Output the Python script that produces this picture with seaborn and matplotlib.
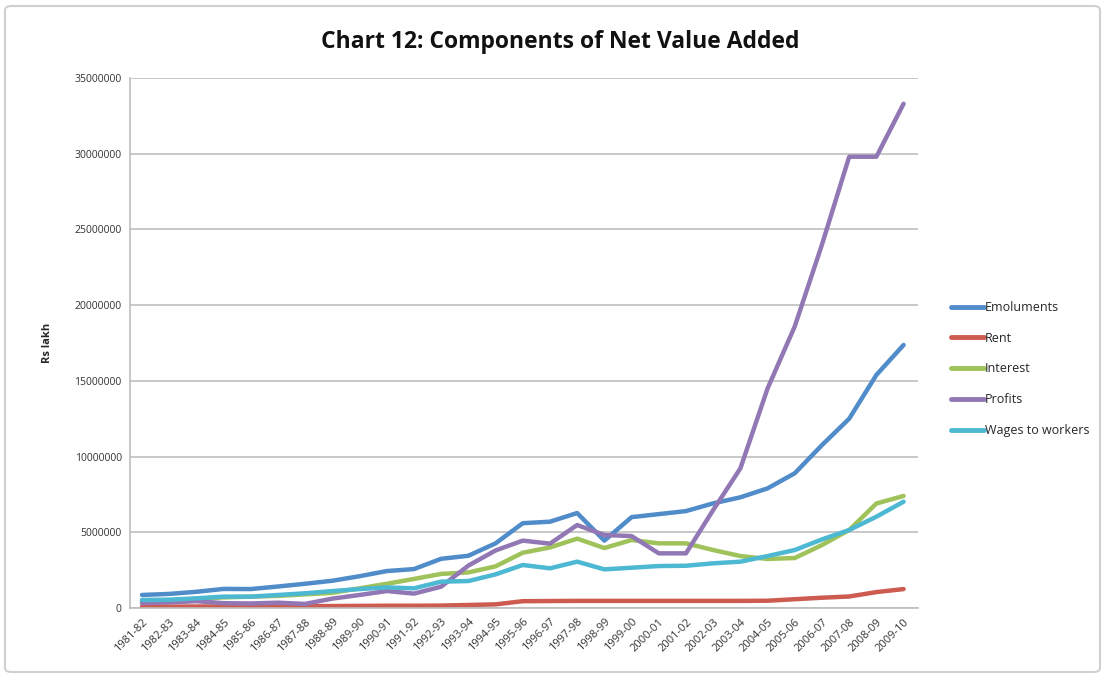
import numpy as np
import pandas as pd
import matplotlib
matplotlib.use("Agg")
import matplotlib.pyplot as plt
import seaborn as sns
from matplotlib.patches import FancyBboxPatch

years = ["1981-82", "1982-83", "1983-84", "1984-85", "1985-86", "1986-87", "1987-88",
         "1988-89", "1989-90", "1990-91", "1991-92", "1992-93", "1993-94", "1994-95",
         "1995-96", "1996-97", "1997-98", "1998-99", "1999-00", "2000-01", "2001-02",
         "2002-03", "2003-04", "2004-05", "2005-06", "2006-07", "2007-08", "2008-09",
         "2009-10"]

emoluments = [0.86, 0.93, 1.07, 1.26, 1.25, 1.42, 1.6, 1.8, 2.1, 2.44, 2.57, 3.25, 3.45,
              4.27, 5.6, 5.7, 6.27, 4.45, 6.0, 6.2, 6.4, 6.91, 7.31, 7.9, 8.9, 10.76,
              12.5, 15.39, 17.37]
rent = [0.08, 0.09, 0.1, 0.1, 0.11, 0.12, 0.12, 0.13, 0.14, 0.15, 0.15, 0.16, 0.2, 0.24,
        0.45, 0.46, 0.47, 0.47, 0.47, 0.47, 0.47, 0.47, 0.47, 0.48, 0.58, 0.68, 0.76,
        1.05, 1.25]
interest = [0.45, 0.5, 0.6, 0.7, 0.75, 0.8, 0.9, 1.0, 1.3, 1.6, 1.92, 2.25, 2.35, 2.75,
            3.65, 4.0, 4.58, 3.96, 4.49, 4.27, 4.27, 3.83, 3.43, 3.24, 3.3, 4.16, 5.15,
            6.9, 7.4]
profits = [0.32, 0.37, 0.45, 0.32, 0.3, 0.35, 0.27, 0.62, 0.86, 1.12, 0.95, 1.41, 2.8,
           3.8, 4.45, 4.25, 5.48, 4.82, 4.75, 3.61, 3.61, 6.47, 9.22, 14.5, 18.6, 24.0,
           29.8, 29.8, 33.3]
wages = [0.53, 0.55, 0.64, 0.75, 0.75, 0.86, 0.97, 1.12, 1.25, 1.36, 1.3, 1.74, 1.78,
         2.22, 2.84, 2.62, 3.06, 2.55, 2.66, 2.77, 2.79, 2.95, 3.06, 3.43, 3.83, 4.53,
         5.15, 6.03, 7.02]

series_names = ["Emoluments", "Rent", "Interest", "Profits", "Wages to workers"]
series_values = [emoluments, rent, interest, profits, wages]
colors = ["#4f8cc9", "#cd5b50", "#9fc25a", "#9277b5", "#4db8d2"]

rows = []
for name, vals in zip(series_names, series_values):
    for i, v in enumerate(vals):
        rows.append({"idx": i, "value": v * 1e6, "series": name})
df = pd.DataFrame(rows)

sns.set_style("white")
plt.rcParams["font.family"] = ["Open Sans", "DejaVu Sans"]

fig = plt.figure(figsize=(11.01, 6.78), dpi=100)
ax = fig.add_axes([130 / 1101, 1 - 608 / 678, (918 - 130) / 1101, (608 - 78) / 678])

sns.lineplot(data=df, x="idx", y="value", hue="series", hue_order=series_names,
             palette=colors, linewidth=3.2, sort=False, ax=ax, legend=True)

ax.set_xlim(-0.44, 28.53)
ax.set_ylim(0, 35e6)
ax.set_yticks(np.arange(0, 35e6 + 1, 5e6))
ax.set_yticklabels([f"{int(v)}" for v in np.arange(0, 35e6 + 1, 5e6)], fontsize=7.5,
                   color="#333333")
ax.set_xticks(range(len(years)))
ax.set_xticklabels(years, rotation=45, ha="right", rotation_mode="anchor", fontsize=8,
                   color="#333333")
ax.tick_params(axis="both", length=0, pad=6)
ax.grid(axis="y", color="#c8c8c8", linewidth=1.4)
ax.set_axisbelow(True)
for s in ["top", "right"]:
    ax.spines[s].set_visible(False)
for s in ["left", "bottom"]:
    ax.spines[s].set_color("#bdbdbd")
    ax.spines[s].set_linewidth(1.2)
ax.set_xlabel("")
ax.set_ylabel("Rs lakh", fontsize=8, fontweight="bold")
ax.yaxis.set_label_coords(-0.098, 0.5)

fig.suptitle("Chart 12: Components of Net Value Added", x=560 / 1101, y=1 - 42 / 678,
             va="center", fontsize=16.5, fontweight="bold", color="#111111")

leg = ax.legend(loc="center left", bbox_to_anchor=(940 / 1101, 1 - 369 / 678),
                bbox_transform=fig.transFigure, frameon=False, fontsize=9,
                handlelength=2.6, handletextpad=0.1, labelspacing=1.42)
for line in leg.get_lines():
    line.set_linewidth(3.5)

border = FancyBboxPatch((5 / 1101, 6 / 678), 1 - 6 / 1101, 1 - 12 / 678,
                        boxstyle="round,pad=0,rounding_size=0.006",
                        transform=fig.transFigure, facecolor="none",
                        edgecolor="#d0d0d0", linewidth=1.5)
fig.patches.append(border)

fig.savefig("out.png", dpi=100)
